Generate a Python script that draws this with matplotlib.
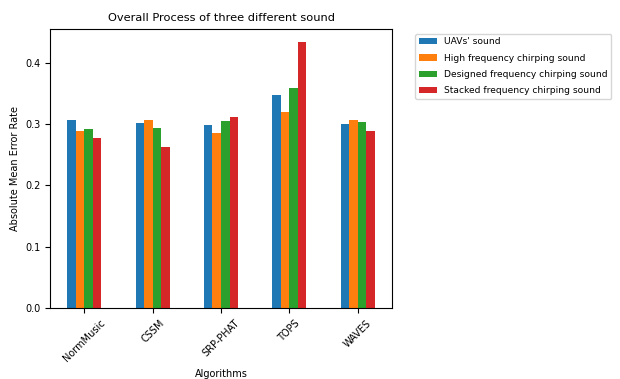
import pandas as pd
import matplotlib
matplotlib.use('Agg')
import matplotlib.pyplot as plt

algorithms = ['NormMusic', 'CSSM', 'SRP-PHAT', 'TOPS', 'WAVES']
uav_sound = [0.307, 0.301, 0.299, 0.347, 0.300]
high_freq = [0.288, 0.307, 0.285, 0.319, 0.307]
designed_freq = [0.292, 0.294, 0.305, 0.358, 0.304]
stacked_freq = [0.278, 0.262, 0.311, 0.433, 0.288]

df = pd.DataFrame({
    "UAVs' sound": uav_sound,
    'High frequency chirping sound': high_freq,
    'Designed frequency chirping sound': designed_freq,
    'Stacked frequency chirping sound': stacked_freq,
}, index=algorithms)

fig = plt.figure(figsize=(6.2, 3.79), dpi=100)
ax = fig.add_axes([0.081, 0.187, 0.551, 0.736])
df.plot(kind='bar', ax=ax, fontsize=7)

ax.set_title('Overall Process of three different sound', fontsize=8.2)
ax.set_xlabel('Algorithms', fontsize=7)
ax.set_ylabel('Absolute Mean Error Rate', fontsize=7)
plt.setp(ax.get_xticklabels(), rotation=45)
ax.legend(bbox_to_anchor=(1.054, 1.0), loc='upper left', fontsize=6.6,
          labelspacing=0.8)

plt.savefig('out.png', dpi=100)
